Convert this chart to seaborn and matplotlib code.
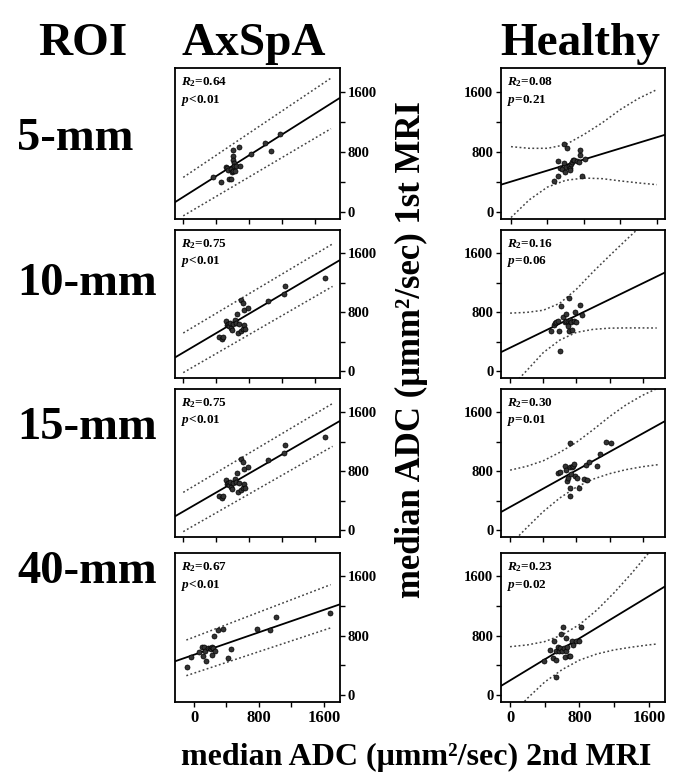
import numpy as np
import pandas as pd
import matplotlib
matplotlib.use('Agg')
import matplotlib.pyplot as plt
import seaborn as sns

# rótulos
rois = ['5-mm', '10-mm', '15-mm', '40-mm']
grupos = ['AxSpA', 'Healthy']

# ---------------- AxSpA ----------------
# 5-mm
a05_x = [364, 457, 517, 525, 545, 553, 574, 574, 586, 598, 598, 606, 606, 614, 614, 626, 638, 675, 687, 820, 994, 1058, 1172]
a05_y = [462, 400, 600, 582, 555, 431, 431, 564, 533, 542, 830, 742, 697, 653, 617, 542, 608, 866, 608, 773, 919, 808, 1043]
a05_fit_x = [-100, 1900]
a05_fit_y = [129, 1518]
a05_band_x = [0, 1790]
a05_hi = [459, 1780]
a05_lo = [-53, 1107]

# 10-mm
a10_x = [434, 475, 487, 516, 528, 548, 556, 564, 577, 589, 609, 625, 637, 650, 666, 678, 698, 706, 719, 723, 731, 739, 747, 788, 1023, 1218, 1238, 1721]
a10_y = [462, 436, 462, 674, 629, 638, 606, 651, 584, 561, 638, 696, 651, 772, 516, 638, 548, 965, 920, 570, 831, 629, 570, 853, 952, 1042, 1154, 1257]
a10_fit_x = [-100, 1900]
a10_fit_y = [184, 1507]
a10_band_x = [0, 1810]
a10_hi = [516, 1726]
a10_lo = [-22, 1149]

# 15-mm
a15_x = [434, 475, 487, 516, 528, 548, 556, 564, 577, 589, 609, 625, 637, 650, 666, 678, 698, 706, 719, 723, 731, 739, 747, 788, 1023, 1218, 1238, 1721]
a15_y = [462, 436, 462, 674, 629, 638, 606, 651, 584, 561, 638, 696, 651, 772, 516, 638, 548, 965, 920, 570, 831, 629, 570, 853, 952, 1042, 1154, 1257]
a15_fit_x = [-100, 1900]
a15_fit_y = [186, 1482]
a15_band_x = [0, 1810]
a15_hi = [511, 1718]
a15_lo = [-22, 1136]

# 40-mm
a40_x = [-86, -33, 62, 103, 111, 119, 131, 144, 172, 193, 213, 226, 226, 234, 242, 254, 295, 357, 418, 459, 779, 931, 1013, 1677]
a40_y = [373, 516, 575, 642, 530, 651, 597, 453, 633, 633, 620, 543, 651, 633, 799, 597, 876, 889, 498, 620, 889, 876, 1055, 1100]
a40_fit_x = [-235, 1800]
a40_fit_y = [454, 1223]
a40_band_x = [-95, 1685]
a40_hi = [741, 1488]
a40_lo = [260, 905]

# ---------------- Healthy ----------------
# 5-mm
h05_x = [474, 511, 511, 540, 558, 577, 584, 595, 606, 613, 631, 642, 650, 657, 668, 679, 686, 723, 741, 752, 752, 777, 814]
h05_y = [407, 484, 678, 588, 574, 655, 900, 529, 597, 854, 606, 588, 551, 633, 664, 696, 687, 678, 664, 755, 823, 484, 710]
h05_fit_x = [-110, 1690]
h05_fit_y = [362, 1026]
h05_band_x = [0, 200, 400, 600, 800, 1000, 1200, 1400, 1600]
h05_hi = [868, 846, 846, 895, 1030, 1185, 1362, 1510, 1627]
h05_lo = [-75, 160, 330, 420, 450, 442, 412, 385, 362]

# 10-mm
h10_x = [497, 525, 537, 558, 578, 590, 606, 618, 638, 659, 671, 679, 699, 699, 711, 711, 719, 727, 739, 751, 768, 780, 800, 848, 873]
h10_y = [539, 629, 651, 665, 674, 539, 278, 889, 727, 665, 772, 674, 674, 606, 988, 548, 683, 696, 665, 561, 674, 799, 665, 898, 754]
h10_fit_x = [-110, 1870]
h10_fit_y = [256, 1338]
h10_band_x = [0, 200, 400, 600, 800, 1000, 1200, 1400, 1600, 1770]
h10_hi = [786, 796, 825, 920, 1110, 1345, 1565, 1780, 1990, 2150]
h10_lo = [-230, 5, 250, 420, 525, 565, 582, 585, 585, 584]

# 15-mm
h15_x = [578, 606, 659, 671, 687, 699, 719, 727, 727, 727, 739, 751, 760, 772, 780, 808, 832, 889, 913, 929, 953, 1050, 1091, 1155, 1224]
h15_y = [768, 786, 875, 821, 666, 710, 857, 568, 457, 1177, 755, 857, 875, 901, 733, 710, 568, 688, 888, 679, 919, 875, 1035, 1199, 1177]
h15_fit_x = [-110, 1870]
h15_fit_y = [244, 1479]
h15_band_x = [0, 200, 400, 600, 800, 1000, 1200, 1400, 1600, 1790]
h15_hi = [813, 865, 940, 1055, 1190, 1360, 1540, 1700, 1830, 1930]
h15_lo = [-200, 30, 250, 435, 583, 690, 765, 820, 860, 888]

# 40-mm
h40_x = [397, 462, 493, 512, 524, 524, 531, 551, 562, 578, 589, 601, 608, 616, 628, 639, 647, 655, 678, 693, 716, 724, 762, 793, 820]
h40_y = [452, 606, 497, 732, 470, 244, 597, 642, 597, 633, 823, 588, 922, 633, 506, 768, 597, 642, 529, 529, 732, 678, 732, 732, 922]
h40_fit_x = [-104, 1785]
h40_fit_y = [122, 1464]
h40_band_x = [0, 200, 400, 600, 800, 1000, 1200, 1400, 1600, 1690]
h40_hi = [651, 675, 720, 810, 950, 1145, 1380, 1640, 1920, 2060]
h40_lo = [-300, -45, 175, 342, 470, 553, 608, 645, 676, 687]

# estatísticas
r2_axspa = ['0.64', '0.75', '0.75', '0.67']
p_axspa = ['<0.01', '<0.01', '<0.01', '<0.01']
r2_healthy = ['0.08', '0.16', '0.30', '0.23']
p_healthy = ['=0.21', '=0.06', '=0.01', '=0.02']

# limites do eixo x de cada painel
xlim_axspa = [(-100, 1900), (-100, 1900), (-100, 1900), (-235, 1800)]
xlim_healthy = [(-110, 1690), (-110, 1870), (-110, 1870), (-104, 1785)]

paineis = {
    'AxSpA': [
        (a05_x, a05_y, a05_fit_x, a05_fit_y, a05_band_x, a05_hi, a05_lo),
        (a10_x, a10_y, a10_fit_x, a10_fit_y, a10_band_x, a10_hi, a10_lo),
        (a15_x, a15_y, a15_fit_x, a15_fit_y, a15_band_x, a15_hi, a15_lo),
        (a40_x, a40_y, a40_fit_x, a40_fit_y, a40_band_x, a40_hi, a40_lo),
    ],
    'Healthy': [
        (h05_x, h05_y, h05_fit_x, h05_fit_y, h05_band_x, h05_hi, h05_lo),
        (h10_x, h10_y, h10_fit_x, h10_fit_y, h10_band_x, h10_hi, h10_lo),
        (h15_x, h15_y, h15_fit_x, h15_fit_y, h15_band_x, h15_hi, h15_lo),
        (h40_x, h40_y, h40_fit_x, h40_fit_y, h40_band_x, h40_hi, h40_lo),
    ],
}

sns.set_style('ticks')
plt.rcParams['font.family'] = ['Liberation Serif', 'DejaVu Serif']
plt.rcParams['font.weight'] = 'bold'
plt.rcParams['text.color'] = 'black'
plt.rcParams['xtick.color'] = 'black'
plt.rcParams['ytick.color'] = 'black'
plt.rcParams['xtick.labelcolor'] = 'black'
plt.rcParams['ytick.labelcolor'] = 'black'
plt.rcParams['mathtext.fontset'] = 'custom'
plt.rcParams['mathtext.rm'] = 'Liberation Serif:bold'
plt.rcParams['mathtext.it'] = 'Liberation Serif:italic:bold'
plt.rcParams['mathtext.bf'] = 'Liberation Serif:bold'

W, H = 673, 780
fig = plt.figure(figsize=(W / 100, H / 100), dpi=100)

# posições em pixels (topo, base)
linhas = [(68, 219), (230, 378), (389, 537), (553, 702)]
colunas = {'AxSpA': (175, 340), 'Healthy': (501, 665)}

dot = (0, (1.2, 1.6))

for g in grupos:
    left, right = colunas[g]
    for i, (top, bottom) in enumerate(linhas):
        ax = fig.add_axes([left / W, 1 - bottom / H, (right - left) / W, (bottom - top) / H])
        px, py, fx, fy, bx, bhi, blo = paineis[g][i]

        sns.lineplot(x=bx, y=bhi, ax=ax, color='#444444', lw=1.1, linestyle=dot, sort=False, estimator=None)
        sns.lineplot(x=bx, y=blo, ax=ax, color='#444444', lw=1.1, linestyle=dot, sort=False, estimator=None)
        sns.lineplot(x=fx, y=fy, ax=ax, color='black', lw=1.3, sort=False, estimator=None)
        sns.scatterplot(x=px, y=py, ax=ax, s=13, color='#333333', edgecolor='black', linewidth=0.5, zorder=3)

        if g == 'AxSpA':
            ax.set_xlim(*xlim_axspa[i])
            ax.yaxis.tick_right()
            r2, pv = r2_axspa[i], p_axspa[i]
        else:
            ax.set_xlim(*xlim_healthy[i])
            r2, pv = r2_healthy[i], p_healthy[i]
        ax.set_ylim(-95, 1915)

        ax.set_xticks([0, 800, 1600])
        ax.set_xticks([400, 1200], minor=True)
        ax.set_yticks([0, 800, 1600])
        ax.set_yticks([400, 1200], minor=True)
        ax.tick_params(which='both', direction='out', length=3.5, width=1, color='black')
        ax.tick_params(axis='y', labelsize=10.5, pad=2)
        ax.tick_params(axis='x', labelsize=12, pad=2)
        if i < 3:
            ax.set_xticklabels([])
        for lab in ax.get_xticklabels() + ax.get_yticklabels():
            lab.set_fontweight('bold')
        ax.set_xlabel('')
        ax.set_ylabel('')
        for s in ax.spines.values():
            s.set_visible(True)
            s.set_linewidth(1.3)
            s.set_color('black')

        ax.text(0.035, 0.95, r'$R_{2}$=' + r2, transform=ax.transAxes, fontsize=9.5,
                fontweight='bold', ha='left', va='top')
        ax.text(0.035, 0.835, r'$p$' + pv, transform=ax.transAxes, fontsize=9.5,
                fontweight='bold', ha='left', va='top')

# títulos
fig.text(83 / W, 1 - 55 / H, 'ROI', fontsize=34, fontweight='bold', ha='center', va='baseline')
fig.text(254 / W, 1 - 55 / H, 'AxSpA', fontsize=34, fontweight='bold', ha='center', va='baseline')
fig.text(580 / W, 1 - 55 / H, 'Healthy', fontsize=34, fontweight='bold', ha='center', va='baseline')

bases = [150, 295, 439, 583]
for r, b in zip(rois, bases):
    fig.text(17 / W, 1 - b / H, r, fontsize=33.5, fontweight='bold', ha='left', va='baseline')

fig.text(411 / W, 1 - 350 / H, 'median ADC (μmm²/sec) 1st MRI', fontsize=25, fontweight='bold',
         rotation=90, ha='center', va='center')
fig.text(416 / W, 1 - 757 / H, 'median ADC (μmm²/sec) 2nd MRI', fontsize=23, fontweight='bold',
         ha='center', va='center')

fig.savefig('out.png', dpi=100)
